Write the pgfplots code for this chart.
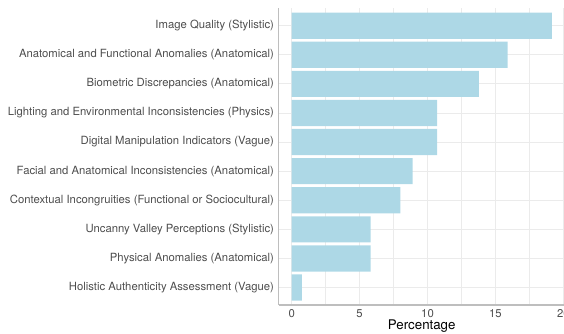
\documentclass[border=0pt]{standalone}
\usepackage{pgfplots}
\pgfplotsset{compat=1.18}
\usepackage{fontspec}
\setmainfont{TeX Gyre Heros}
\definecolor{barblue}{HTML}{ADD8E6}
\definecolor{gridc}{HTML}{EBEBEB}
\definecolor{axc}{HTML}{BEBEBE}
\definecolor{txt}{HTML}{4D4D4D}
\begin{document}
\begin{tikzpicture}
\begin{axis}[
  scale only axis,
  width=286.1pt, height=296.8pt,
  xmin=-0.9575, xmax=20.11,
  ymin=0.4, ymax=10.6,
  xtick={0,5,10,15,20},
  minor xtick={2.5,7.5,12.5,17.5},
  ytick={1,...,10},
  yticklabels={
    Holistic Authenticity Assessment (Vague),
    Physical Anomalies (Anatomical),
    Uncanny Valley Perceptions (Stylistic),
    Contextual Incongruities (Functional or Sociocultural),
    Facial and Anatomical Inconsistencies (Anatomical),
    Digital Manipulation Indicators (Vague),
    Lighting and Environmental Inconsistencies (Physics),
    Biometric Discrepancies (Anatomical),
    Anatomical and Functional Anomalies (Anatomical),
    Image Quality (Stylistic)},
  major tick length=0pt, minor tick length=0pt,
  grid=both,
  major grid style={gridc, line width=0.9pt},
  minor grid style={gridc, line width=0.5pt},
  axis x line*=bottom, axis y line*=left,
  axis line style={axc, line width=1.2pt},
  every outer x axis line/.append style={-}, every outer y axis line/.append style={-},
  tick label style={font=\fontsize{11.3}{13}\selectfont, text=txt},
  yticklabel style={inner sep=0pt, xshift=-4.5pt},
  xticklabel style={inner sep=0pt, yshift=-4.5pt},
  /pgf/number format/assume math mode=true,
  xlabel={Percentage},
  xlabel style={at={(axis description cs:0.5,0)}, anchor=north, inner sep=0pt, yshift=-14.5pt, font=\fontsize{13.3}{15}\selectfont, text=black},
  xbar, bar width=0.9,
]
\addplot[fill=barblue, draw=none] coordinates {
  (0.74,1) (5.82,2) (5.82,3) (8.0,4) (8.9,5) (10.7,6) (10.7,7) (13.79,8) (15.9,9) (19.15,10)
};
\end{axis}
\pgfresetboundingbox
\path ([shift={(-278.7pt,-28pt)}]current axis.south west) rectangle ([shift={(-0.8pt,8.2pt)}]current axis.north east);
\end{tikzpicture}
\end{document}
